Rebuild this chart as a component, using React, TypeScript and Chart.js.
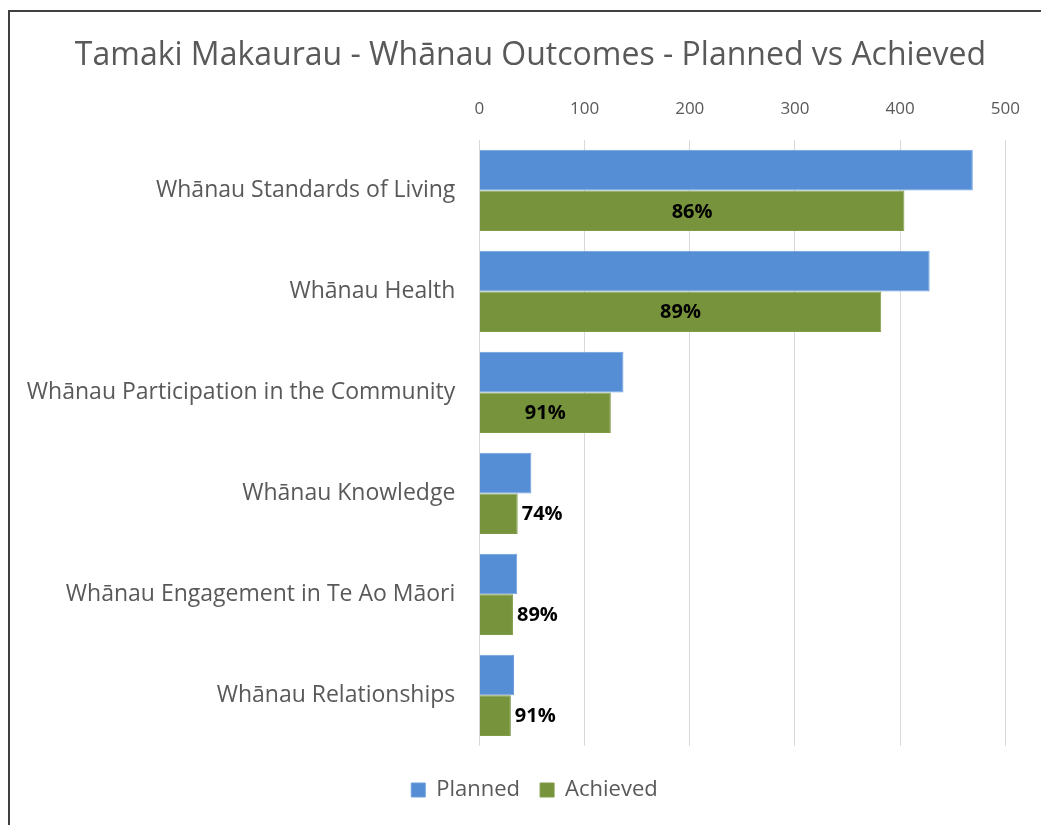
import React, { useEffect, useRef } from "react";
import { Chart, registerables } from "chart.js";

Chart.register(...registerables);

const categories = [
  "Whānau Standards of Living",
  "Whānau Health",
  "Whānau Participation in the Community",
  "Whānau Knowledge",
  "Whānau Engagement in Te Ao Māori",
  "Whānau Relationships",
];
const planned = [469, 428, 137, 49.5, 36, 33];
const achieved = [404, 382, 125, 36.5, 32, 30];
const achievedLabels = ["86%", "89%", "91%", "74%", "89%", "91%"];
const seriesNames = ["Planned", "Achieved"];
const xMin = 0;
const xMax = 500;
const xStep = 100;
const titleText = "Tamaki Makaurau - Whānau Outcomes - Planned vs Achieved";

const FONT = "'Open Sans'";
const GREY = "#595959";

const labelPlugin = {
  id: "achievedLabels",
  afterDatasetsDraw(chart: any) {
    const meta = chart.getDatasetMeta(1);
    const ctx = chart.ctx;
    ctx.save();
    ctx.font = `bold 20px ${FONT}`;
    ctx.fillStyle = "#000000";
    ctx.textBaseline = "middle";
    meta.data.forEach((bar: any, i: number) => {
      const text = achievedLabels[i];
      const w = ctx.measureText(text).width;
      const { x, y, base } = bar.getProps(["x", "y", "base"], true);
      const len = x - base;
      if (len > w + 12) {
        ctx.textAlign = "center";
        ctx.fillText(text, (x + base) / 2, y + 1);
      } else {
        ctx.textAlign = "left";
        ctx.fillText(text, x + 4, y + 1);
      }
    });
    ctx.restore();
  },
};

// centre the title and legend on the frame like the original
const blockShiftPlugin = {
  id: "blockShift",
  afterLayout(chart: any) {
    const t = chart.titleBlock;
    if (t) {
      t.left += 12;
      t.right += 12;
    }
    const l = chart.legend;
    if (l) {
      l.left += 16;
      l.right += 16;
    }
  },
};

export default function App() {
  const ref = useRef<HTMLCanvasElement | null>(null);

  useEffect(() => {
    if (!ref.current) return;
    const chart = new Chart(ref.current, {
      type: "bar",
      data: {
        labels: categories,
        datasets: [
          {
            label: seriesNames[0],
            data: planned,
            backgroundColor: "#558ED5",
            borderColor: "#6E9FDC",
            borderWidth: 1,
            categoryPercentage: 0.805,
            barPercentage: 1.0,
          },
          {
            label: seriesNames[1],
            data: achieved,
            backgroundColor: "#77933C",
            borderColor: "#809B48",
            borderWidth: 1,
            categoryPercentage: 0.805,
            barPercentage: 1.0,
          },
        ],
      },
      options: {
        indexAxis: "y",
        animation: false,
        responsive: false,
        devicePixelRatio: 1,
        layout: { padding: { left: 16, right: 20, top: 0, bottom: 14 } },
        plugins: {
          title: {
            display: true,
            text: titleText,
            color: GREY,
            font: { family: FONT, size: 32, weight: "normal" },
            padding: { top: 37, bottom: 0 },
          },
          legend: {
            position: "bottom",
            title: {
              display: true,
              text: "",
              font: { size: 1 },
              padding: { top: 12, bottom: 0 },
            },
            labels: {
              boxWidth: 14,
              boxHeight: 14,
              color: GREY,
              font: { family: FONT, size: 22 },
              padding: 20,
            },
          },
          tooltip: { enabled: false },
        },
        scales: {
          x: {
            position: "top",
            min: xMin,
            max: xMax,
            ticks: {
              stepSize: xStep,
              color: GREY,
              font: { family: FONT, size: 17 },
              padding: 21,
            },
            grid: { color: "#D9D9D9", drawTicks: false },
            border: { display: false },
            afterFit: (s: any) => {
              s.height = 64.6;
            },
          },
          y: {
            ticks: {
              color: GREY,
              font: { family: FONT, size: 23 },
              padding: 24,
            },
            grid: { display: false, drawTicks: false },
            border: { display: false },
            afterFit: (s: any) => {
              s.width = 463.3;
            },
          },
        },
      },
      plugins: [labelPlugin, blockShiftPlugin],
    });
    return () => chart.destroy();
  }, []);

  return (
    <div
      style={{
        position: "fixed",
        left: 0,
        top: 0,
        width: 1041,
        height: 825,
        overflow: "hidden",
        background: "#ffffff",
      }}
    >
      <div
        style={{
          position: "absolute",
          left: 8,
          top: 10,
          width: 1100,
          height: 900,
          borderTop: "2px solid #404040",
          borderLeft: "2px solid #404040",
        }}
      />
      <canvas
        ref={ref}
        width={1041}
        height={825}
        style={{ position: "absolute", left: 0, top: 0 }}
      />
    </div>
  );
}
